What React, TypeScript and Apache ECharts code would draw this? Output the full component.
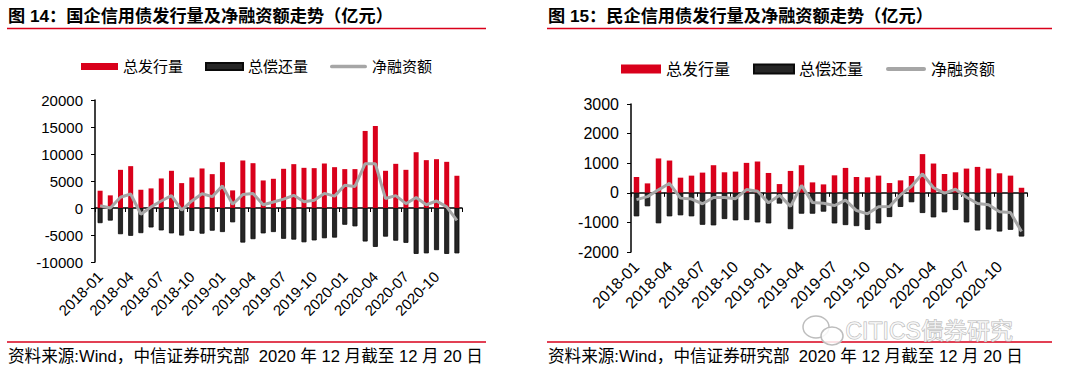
import React, { useEffect, useRef } from "react";
import * as echarts from "echarts";

const months = [
  "2018-01", "2018-02", "2018-03", "2018-04", "2018-05", "2018-06",
  "2018-07", "2018-08", "2018-09", "2018-10", "2018-11", "2018-12",
  "2019-01", "2019-02", "2019-03", "2019-04", "2019-05", "2019-06",
  "2019-07", "2019-08", "2019-09", "2019-10", "2019-11", "2019-12",
  "2020-01", "2020-02", "2020-03", "2020-04", "2020-05", "2020-06",
  "2020-07", "2020-08", "2020-09", "2020-10", "2020-11", "2020-12",
];

// 国企 (SOE)
const soeIssuance = [
  3200, 2340, 7070, 7750, 3380, 3630, 5470, 6890, 4610, 5660, 7320, 6270,
  8490, 3260, 8800, 8300, 5100, 5410, 7260, 8120, 7440, 7380, 8240, 7560,
  7200, 7200, 14270, 15190, 6890, 8180, 7070, 10330, 8860, 9040, 8550, 5970,
];
const soeRepayment = [
  -2800, -2330, -4850, -5150, -4650, -3600, -4150, -4700, -5100, -4250, -4750, -4200,
  -4450, -2650, -6400, -5770, -4700, -4450, -5700, -5850, -6350, -6000, -5600, -5480,
  -3100, -3400, -6200, -7200, -5300, -6050, -6450, -8500, -8400, -7800, -8500, -8400,
];
const soeNet = [
  400, 0, 2000, 2600, -1150, 200, 1300, 2300, -400, 1300, 2650, 2100,
  4100, 700, 2500, 2700, 600, 1100, 1650, 2350, 1150, 1450, 2700, 2200,
  4200, 4000, 8200, 8200, 1750, 2300, 800, 1950, 600, 1300, 200, -2300,
];

// 民企 (private)
const privIssuance = [
  534, 318, 1160, 1090, 511, 580, 682, 932, 693, 716, 1011, 1057,
  670, 295, 739, 932, 352, 284, 590, 841, 534, 523, 580, 330,
  420, 568, 1307, 989, 636, 693, 818, 875, 818, 659, 580, 170,
];
const privRepayment = [
  -795, -455, -1030, -795, -760, -795, -1080, -1100, -886, -932, -920, -1000,
  -1034, -364, -1227, -705, -705, -636, -1034, -1090, -1125, -1250, -1034, -818,
  -477, -318, -682, -830, -660, -580, -1000, -1273, -1240, -1307, -1250, -1477,
];
const privNet = [
  -230, -130, 100, 320, -180, -210, -370, -160, -160, -200, 110, 50,
  -340, -80, -460, 250, -330, -350, -430, -250, -600, -710, -470, -460,
  -70, 220, 640, 170, -10, 120, -150, -360, -400, -640, -665, -1310,
];

const seriesNames = ["总发行量", "总偿还量", "净融资额"];
const titles = [
  "图 14：国企信用债发行量及净融资额走势（亿元）",
  "图 15：民企信用债发行量及净融资额走势（亿元）",
];
const sourceText = "资料来源:Wind，中信证券研究部  2020 年 12 月截至 12 月 20 日";
const watermarkText = "CITICS债券研究";

const RED = "#d9001b";
const DARK = "#262626";
const GRAY = "#a6a6a6";
const FONT = '"Liberation Sans", Arial, "Noto Sans CJK SC", sans-serif';

export default function App() {
  const ref = useRef<HTMLDivElement>(null);

  useEffect(() => {
    document.body.style.margin = "0";
    if (!ref.current) return;
    const chart = echarts.init(ref.current, null, { renderer: "svg" });

    const grids = [
      { left: 95, top: 100, width: 367, height: 162 },
      { left: 631, top: 104, width: 396, height: 148 },
    ];
    const yCfg = [
      { min: -10000, max: 20000, interval: 5000, fs: 15 },
      { min: -2000, max: 3000, interval: 1000, fs: 16 },
    ];
    const data = [
      [soeIssuance, soeRepayment, soeNet],
      [privIssuance, privRepayment, privNet],
    ];
    const barW = [5, 5.5];

    const xAxis: any[] = [];
    const yAxis: any[] = [];
    const series: any[] = [];
    [0, 1].forEach((g) => {
      xAxis.push({
        gridIndex: g,
        type: "category",
        data: months,
        position: "bottom",
        axisLine: { show: false, onZero: false },
        axisTick: { show: false },
        axisLabel: {
          interval: 2,
          rotate: 45,
          margin: 12,
          fontSize: yCfg[g].fs,
          color: "#000",
          fontFamily: FONT,
        },
      });
      xAxis.push({
        gridIndex: g,
        type: "category",
        data: months,
        position: "bottom",
        axisLine: { show: true, onZero: true, lineStyle: { color: "#000", width: 1.5 } },
        axisTick: { show: true, interval: 2, length: 4, lineStyle: { color: "#000" } },
        axisLabel: { show: false },
      });
      yAxis.push({
        gridIndex: g,
        type: "value",
        min: yCfg[g].min,
        max: yCfg[g].max,
        interval: yCfg[g].interval,
        axisLine: { show: true, lineStyle: { color: "#000", width: 1.5 } },
        axisTick: { show: true, length: 4, lineStyle: { color: "#000" } },
        axisLabel: {
          fontSize: yCfg[g].fs,
          color: "#000",
          margin: 12,
          fontFamily: FONT,
          formatter: (v: number) => String(v),
        },
        splitLine: { show: false },
      });
      const [iss, rep, net] = data[g];
      series.push({
        name: seriesNames[0],
        type: "bar",
        xAxisIndex: g * 2,
        yAxisIndex: g,
        data: iss,
        barWidth: barW[g],
        barGap: "-100%",
        itemStyle: { color: RED },
      });
      series.push({
        name: seriesNames[1],
        type: "bar",
        xAxisIndex: g * 2,
        yAxisIndex: g,
        data: rep,
        barWidth: barW[g],
        barGap: "-100%",
        itemStyle: { color: DARK, borderColor: "#0a0a0a", borderWidth: 0.8 },
      });
      series.push({
        name: seriesNames[2],
        type: "line",
        xAxisIndex: g * 2,
        yAxisIndex: g,
        data: net,
        symbol: "none",
        lineStyle: { color: GRAY, width: 3 },
        itemStyle: { color: GRAY },
        z: 5,
      });
    });

    const legendData = () => [
      { name: seriesNames[0], icon: "rect" },
      { name: seriesNames[1], icon: "rect" },
      {
        name: seriesNames[2],
        icon: `path://M2,0 L38,0 A2,2 0 0 1 38,4 L2,4 A2,2 0 0 1 2,0 Z`,
        itemStyle: { color: GRAY },
      },
    ];

    const lineStyle = { stroke: RED, lineWidth: 1.5 };

    chart.setOption({
      animation: false,
      backgroundColor: "#fff",
      grid: grids,
      xAxis,
      yAxis,
      series,
      legend: [
        {
          left: 76,
          top: 54,
          itemWidth: 37,
          itemHeight: 7,
          itemGap: 22,
          textStyle: { color: "#000", fontFamily: FONT, fontSize: 15 },
          data: legendData(),
        },
        {
          left: 616,
          top: 56,
          itemWidth: 40,
          itemHeight: 9,
          itemGap: 23,
          textStyle: { color: "#000", fontFamily: FONT, fontSize: 16 },
          data: legendData(),
        },
      ],
      graphic: [
        { type: "text", left: 8, top: 7, style: { text: titles[0], fontSize: 17.2, fontWeight: "bold", fill: "#000", fontFamily: FONT } },
        { type: "text", left: 548, top: 7, style: { text: titles[1], fontSize: 17.2, fontWeight: "bold", fill: "#000", fontFamily: FONT } },
        { type: "line", shape: { x1: 7, y1: 28.5, x2: 486, y2: 28.5 }, style: lineStyle },
        { type: "line", shape: { x1: 547, y1: 28.5, x2: 1052, y2: 28.5 }, style: lineStyle },
        { type: "line", shape: { x1: 7, y1: 342, x2: 486, y2: 342 }, style: lineStyle },
        { type: "line", shape: { x1: 547, y1: 342, x2: 1052, y2: 342 }, style: lineStyle },
        { type: "text", left: 8, top: 348, style: { text: sourceText, fontSize: 16.6, fill: "#000", fontFamily: FONT } },
        { type: "text", left: 548, top: 348, style: { text: sourceText, fontSize: 16.6, fill: "#000", fontFamily: FONT } },
        { type: "ellipse", shape: { cx: 816, cy: 327, rx: 13, ry: 11 }, style: { fill: "rgba(255,255,255,0.85)", stroke: "#bdbdbd", lineWidth: 1.5 }, z: 10 },
        { type: "ellipse", shape: { cx: 832, cy: 336, rx: 11, ry: 9 }, style: { fill: "rgba(255,255,255,0.85)", stroke: "#bdbdbd", lineWidth: 1.5 }, z: 11 },
        { type: "text", left: 845, top: 319, style: { text: watermarkText, fontSize: 23, fill: "rgba(255,255,255,0.7)", stroke: "#b5b5b5", lineWidth: 1, fontFamily: FONT }, z: 12 },
      ],
    });

    return () => chart.dispose();
  }, []);

  return <div ref={ref} style={{ width: 1080, height: 381 }} />;
}
